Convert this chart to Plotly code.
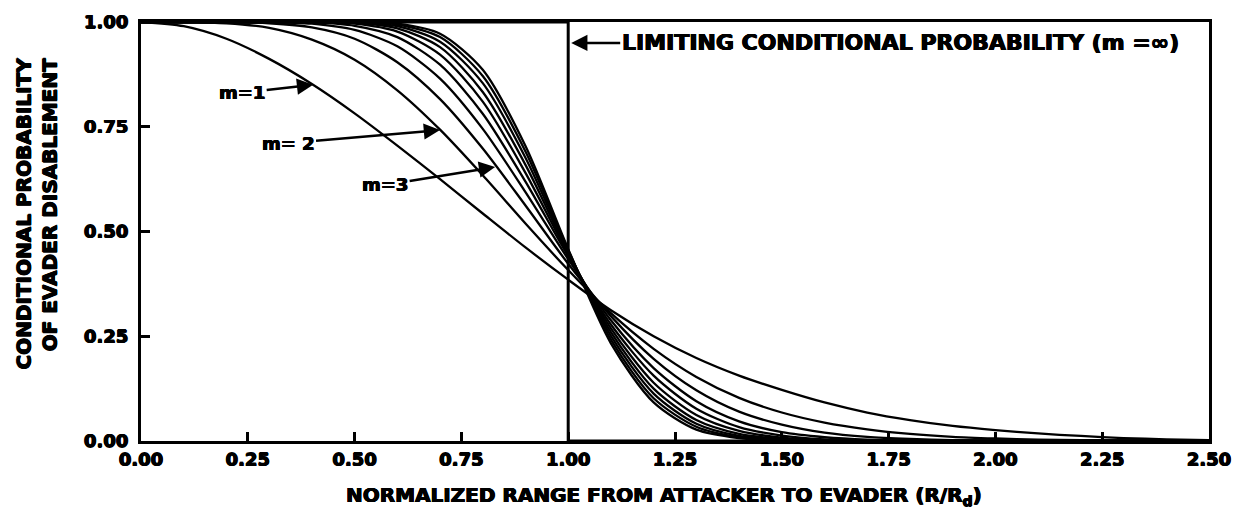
import plotly.graph_objects as go

# Normalized range R/Rd
r = [0.0, 0.1, 0.2, 0.3, 0.4, 0.5, 0.6, 0.7, 0.8, 0.9, 1.0, 1.1, 1.2,
     1.3, 1.4, 1.5, 1.6, 1.7, 1.8, 1.9, 2.0, 2.1, 2.2, 2.3, 2.4, 2.5]

# Conditional probability of evader disablement, one list per m
p_m1 = [1.000, 0.990, 0.960, 0.912, 0.852, 0.782, 0.705, 0.625, 0.543, 0.462, 0.385, 0.312, 0.250,
        0.198, 0.156, 0.122, 0.092, 0.068, 0.050, 0.036, 0.026, 0.018, 0.012, 0.007, 0.004, 0.002]
p_m2 = [1.000, 1.000, 0.997, 0.986, 0.958, 0.910, 0.837, 0.743, 0.634, 0.519, 0.408, 0.305, 0.220,
        0.153, 0.103, 0.068, 0.044, 0.028, 0.017, 0.010, 0.006, 0.003, 0.002, 0.001, 0.000, 0.000]
p_m3 = [1.000, 1.000, 1.000, 0.997, 0.987, 0.960, 0.904, 0.816, 0.698, 0.562, 0.423, 0.298, 0.196,
        0.121, 0.070, 0.039, 0.020, 0.010, 0.005, 0.002, 0.001, 0.000, 0.000, 0.000, 0.000, 0.000]
p_m4 = [1.000, 1.000, 1.000, 1.000, 0.996, 0.981, 0.942, 0.865, 0.745, 0.594, 0.434, 0.288, 0.174,
        0.095, 0.047, 0.021, 0.009, 0.003, 0.001, 0.000, 0.000, 0.000, 0.000, 0.000, 0.000, 0.000]
p_m5 = [1.000, 1.000, 1.000, 1.000, 0.999, 0.991, 0.964, 0.898, 0.781, 0.619, 0.441, 0.278, 0.156,
        0.077, 0.033, 0.013, 0.004, 0.001, 0.000, 0.000, 0.000, 0.000, 0.000, 0.000, 0.000, 0.000]
p_m6 = [1.000, 1.000, 1.000, 1.000, 1.000, 0.996, 0.977, 0.922, 0.810, 0.640, 0.446, 0.269, 0.139,
        0.062, 0.024, 0.008, 0.002, 0.001, 0.000, 0.000, 0.000, 0.000, 0.000, 0.000, 0.000, 0.000]
p_m7 = [1.000, 1.000, 1.000, 1.000, 1.000, 0.998, 0.985, 0.940, 0.833, 0.659, 0.450, 0.260, 0.125,
        0.050, 0.017, 0.005, 0.001, 0.000, 0.000, 0.000, 0.000, 0.000, 0.000, 0.000, 0.000, 0.000]
p_m8 = [1.000, 1.000, 1.000, 1.000, 1.000, 0.999, 0.990, 0.953, 0.854, 0.676, 0.453, 0.251, 0.113,
        0.041, 0.012, 0.003, 0.001, 0.000, 0.000, 0.000, 0.000, 0.000, 0.000, 0.000, 0.000, 0.000]
p_m9 = [1.000, 1.000, 1.000, 1.000, 1.000, 1.000, 0.994, 0.964, 0.871, 0.691, 0.456, 0.242, 0.102,
        0.034, 0.009, 0.002, 0.000, 0.000, 0.000, 0.000, 0.000, 0.000, 0.000, 0.000, 0.000, 0.000]
p_m10 = [1.000, 1.000, 1.000, 1.000, 1.000, 1.000, 0.996, 0.972, 0.886, 0.704, 0.458, 0.233, 0.092,
         0.027, 0.007, 0.001, 0.000, 0.000, 0.000, 0.000, 0.000, 0.000, 0.000, 0.000, 0.000, 0.000]

series = [p_m1, p_m2, p_m3, p_m4, p_m5, p_m6, p_m7, p_m8, p_m9, p_m10]

# Limiting conditional probability (m = infinity): a step at R/Rd = 1
r_lim = [0.0, 1.0, 1.0, 2.5]
p_lim = [1.0, 1.0, 0.0, 0.0]

x_ticks = [0.0, 0.25, 0.5, 0.75, 1.0, 1.25, 1.5, 1.75, 2.0, 2.25, 2.5]
y_ticks = [0.0, 0.25, 0.5, 0.75, 1.0]

FONT = "DejaVu Sans"
HEAVY = "0.6px 0 0 black, -0.6px 0 0 black, 0 0.4px 0 black, 0 -0.4px 0 black"


def f(size):
    return dict(family=FONT, size=size, color="black", weight="bold", shadow=HEAVY)


fig = go.Figure()
for p in series:
    fig.add_trace(go.Scatter(x=r, y=p, mode="lines",
                             line=dict(color="black", width=2.3, shape="spline", smoothing=0.8),
                             showlegend=False, hoverinfo="skip"))
fig.add_trace(go.Scatter(x=r_lim, y=p_lim, mode="lines",
                         line=dict(color="black", width=3),
                         showlegend=False, hoverinfo="skip"))

fig.update_layout(
    width=1243, height=511,
    margin=dict(l=141, r=34, t=22, b=70),
    paper_bgcolor="white", plot_bgcolor="white",
    font=dict(family=FONT, size=18, color="black", weight="bold"),
    xaxis=dict(range=[0, 2.5], tickvals=x_ticks, tickformat=".2f",
               showgrid=False, zeroline=False,
               showline=True, linecolor="black", linewidth=3, mirror=True,
               ticks="inside", ticklen=9, tickwidth=2.5, tickcolor="black",
               tickfont=f(18)),
    yaxis=dict(range=[0, 1], tickvals=y_ticks, tickformat=".2f",
               showgrid=False, zeroline=False,
               showline=True, linecolor="black", linewidth=3, mirror=True,
               ticks="inside", ticklen=9, tickwidth=2.5, tickcolor="black",
               ticklabelstandoff=6, tickfont=f(18)),
)

annos = [
    dict(text="NORMALIZED RANGE FROM ATTACKER TO EVADER (R/R<sub>d</sub>)",
         xref="paper", yref="paper", x=0.49, y=0, yshift=-55, showarrow=False,
         xanchor="center", yanchor="middle", font=f(20)),
    dict(text="CONDITIONAL PROBABILITY<br>OF EVADER DISABLEMENT",
         xref="paper", yref="paper", x=0, y=0.543, xshift=-104, showarrow=False,
         textangle=-90, xanchor="center", yanchor="middle", align="right",
         font=f(20)),
    dict(text="LIMITING CONDITIONAL PROBABILITY (m =\u221e)",
         x=1.0, y=0.95, xref="x", yref="y", ax=332, ay=0,
         showarrow=True, arrowhead=2, arrowsize=1.3, arrowwidth=2.5, arrowcolor="black",
         standoff=3, font=f(22)),
    dict(text="m=1", x=0.403, y=0.85, xref="x", yref="y", ax=-71, ay=8,
         showarrow=True, arrowhead=2, arrowsize=1.3, arrowwidth=2.5, arrowcolor="black",
         font=f(18)),
    dict(text="m= 2", x=0.70, y=0.742, xref="x", yref="y", ax=-152, ay=13,
         showarrow=True, arrowhead=2, arrowsize=1.3, arrowwidth=2.5, arrowcolor="black",
         font=f(18)),
    dict(text="m=3", x=0.829, y=0.654, xref="x", yref="y", ax=-110, ay=18,
         showarrow=True, arrowhead=2, arrowsize=1.3, arrowwidth=2.5, arrowcolor="black",
         font=f(18)),
]
fig.update_layout(annotations=annos)

fig.write_html("out.html", config={"displayModeBar": False},
               post_script="document.body.style.margin='0';document.body.style.padding='0';")
